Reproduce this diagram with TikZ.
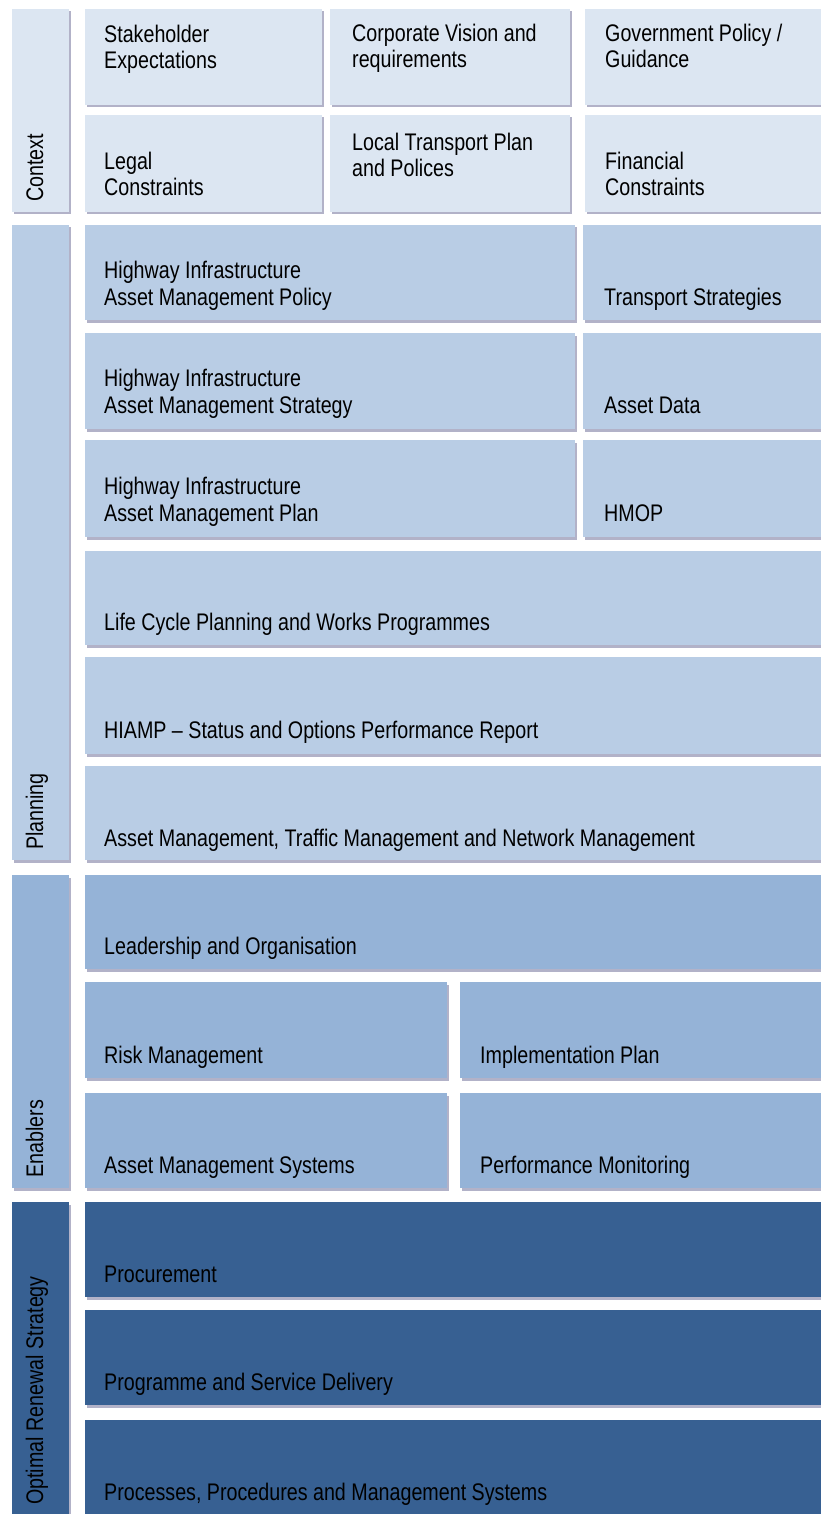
\documentclass[tikz,border=0pt]{standalone}
\usepackage{fontspec}
\setmainfont[FakeStretch=0.82]{Liberation Sans}
\usetikzlibrary{shadows}
\definecolor{ctxc}{HTML}{DCE6F2}
\definecolor{plnc}{HTML}{B9CDE5}
\definecolor{enbc}{HTML}{95B3D7}
\definecolor{optc}{HTML}{376092}
\newcommand\mytile[6]{\node[tile,fill=#6,minimum width={#4-#2},minimum height={#5-#3}] (#1) at (#2,#3) {};}
\begin{document}
\begin{tikzpicture}[x=1pt,y=-1pt,
  tile/.style={anchor=north west,inner sep=0,outer sep=0,draw=none,
    drop shadow={shadow xshift=1.5pt,shadow yshift=-2.5pt,fill=black!70!blue,opacity=0.3}},
  lbl/.style={anchor=base west,align=left,inner sep=0,text=black,
    font=\fontsize{24}{26.5}\selectfont},
  side/.style={rotate=90,anchor=base west,inner sep=0,text=black,
    font=\fontsize{24}{26.5}\selectfont}]
\useasboundingbox[fill=white] (0,0) rectangle (820,1514);
% Context
\mytile{sctx}{12}{9}{69}{212}{ctxc}
\mytile{c11}{85}{9}{322}{105}{ctxc}
\mytile{c12}{330}{9}{570}{105}{ctxc}
\mytile{c13}{585}{9}{822}{105}{ctxc}
\mytile{c21}{85}{115}{322}{212}{ctxc}
\mytile{c22}{330}{115}{570}{212}{ctxc}
\mytile{c23}{585}{115}{822}{212}{ctxc}
% Planning
\mytile{spln}{12}{225}{69}{860}{plnc}
\mytile{p1l}{85}{225}{575}{320}{plnc}
\mytile{p1r}{583}{225}{822}{320}{plnc}
\mytile{p2l}{85}{333}{575}{429}{plnc}
\mytile{p2r}{583}{333}{822}{429}{plnc}
\mytile{p3l}{85}{440}{575}{537}{plnc}
\mytile{p3r}{583}{440}{822}{537}{plnc}
\mytile{p4}{85}{551}{822}{645}{plnc}
\mytile{p5}{85}{657}{822}{754}{plnc}
\mytile{p6}{85}{766}{822}{860}{plnc}
% Enablers
\mytile{senb}{12}{875}{69}{1188}{enbc}
\mytile{e1}{85}{875}{822}{969}{enbc}
\mytile{e2l}{85}{982}{447}{1078}{enbc}
\mytile{e2r}{460}{982}{822}{1078}{enbc}
\mytile{e3l}{85}{1093}{447}{1188}{enbc}
\mytile{e3r}{460}{1093}{822}{1188}{enbc}
% Optimal
\mytile{sopt}{12}{1202}{69}{1520}{optc}
\mytile{o1}{85}{1202}{822}{1297}{optc}
\mytile{o2}{85}{1310}{822}{1405}{optc}
\mytile{o3}{85}{1420}{822}{1520}{optc}
% side labels
\node[side] (lctx) at (43,202) {Context};
\node[side] (lpln) at (43,850) {Planning};
\node[side] (lenb) at (43,1178) {Enablers};
\node[side] (lopt) at (43,1505) {Optimal Renewal Strategy};
% texts (base = baseline of last line)
\node[lbl] (t11) at (104,69) {Stakeholder\\Expectations};
\node[lbl] (t12) at (352,68) {Corporate Vision and\\requirements};
\node[lbl] (t13) at (605,68) {Government Policy /\\Guidance};
\node[lbl] (t21) at (104,196) {Legal\\Constraints};
\node[lbl] (t22) at (352,177) {Local Transport Plan\\and Polices};
\node[lbl] (t23) at (605,196) {Financial\\Constraints};
\node[lbl] (tp1l) at (104,305) {Highway Infrastructure\\Asset Management Policy};
\node[lbl] (tp1r) at (604,305) {Transport Strategies};
\node[lbl] (tp2l) at (104,413) {Highway Infrastructure\\Asset Management Strategy};
\node[lbl] (tp2r) at (604,413) {Asset Data};
\node[lbl] (tp3l) at (104,521) {Highway Infrastructure\\Asset Management Plan};
\node[lbl] (tp3r) at (604,521) {HMOP};
\node[lbl] (tp4) at (104,630) {Life Cycle Planning and Works Programmes};
\node[lbl] (tp5) at (104,738) {HIAMP -- Status and Options Performance Report};
\node[lbl] (tp6) at (104,846) {Asset Management, Traffic Management and Network Management};
\node[lbl] (te1) at (104,954) {Leadership and Organisation};
\node[lbl] (te2l) at (104,1063) {Risk Management};
\node[lbl] (te2r) at (480,1063) {Implementation Plan};
\node[lbl] (te3l) at (104,1173) {Asset Management Systems};
\node[lbl] (te3r) at (480,1173) {Performance Monitoring};
\node[lbl] (to1) at (104,1282) {Procurement};
\node[lbl] (to2) at (104,1390) {Programme and Service Delivery};
\node[lbl] (to3) at (104,1500) {Processes, Procedures and Management Systems};
\end{tikzpicture}
\end{document}
